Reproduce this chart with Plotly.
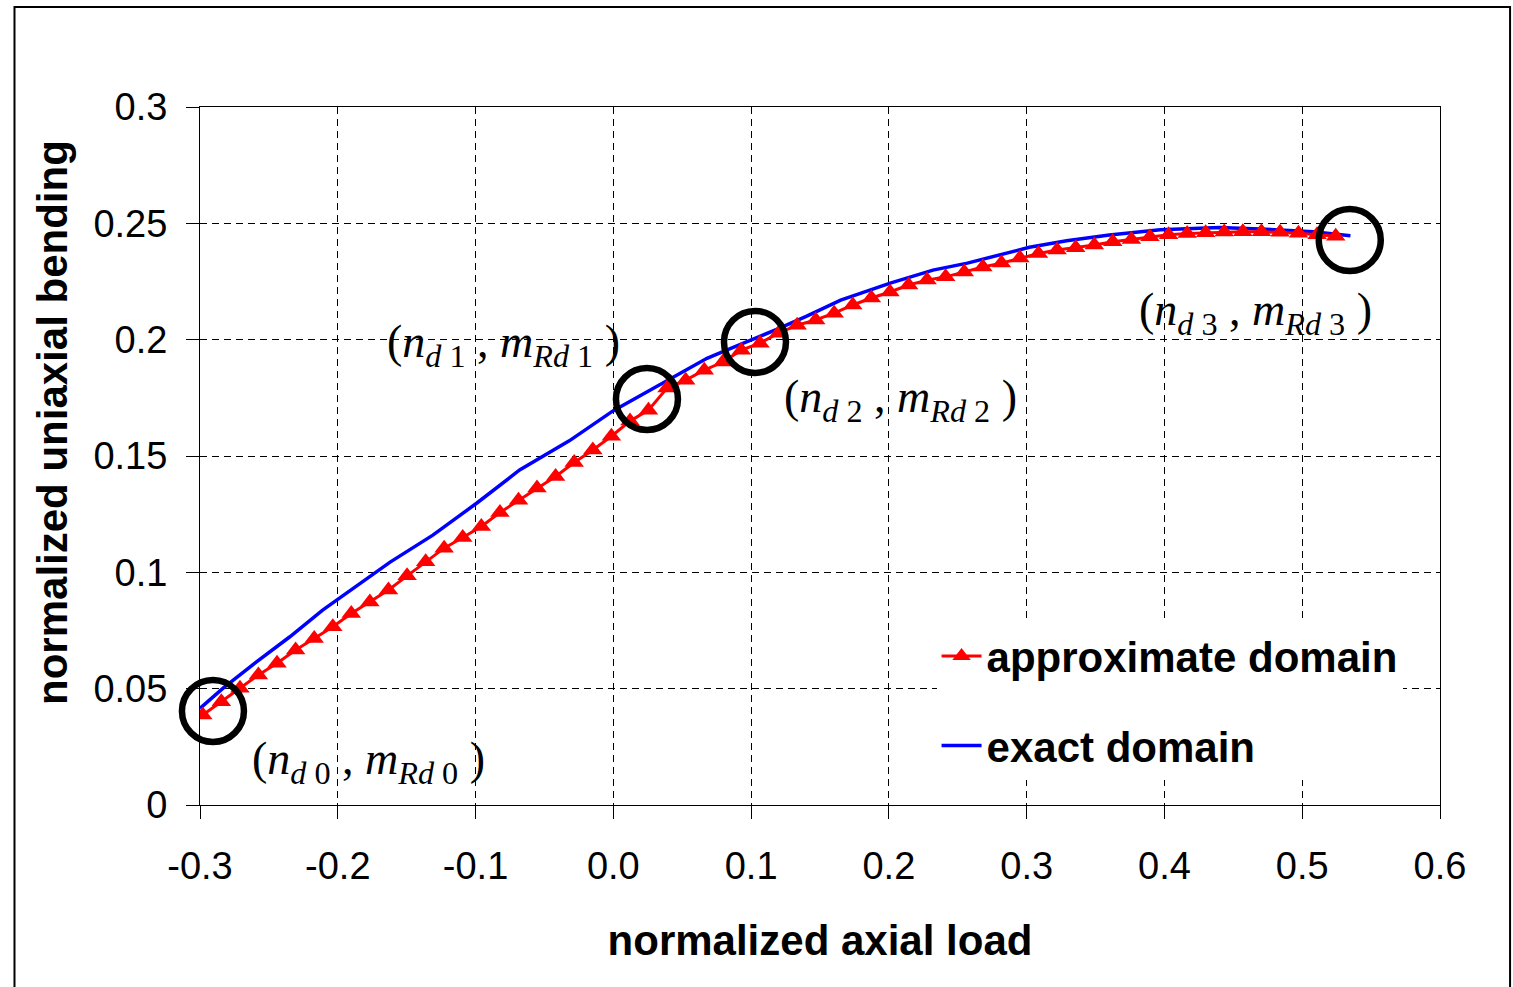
import plotly.graph_objects as go

# approximate domain (red, triangles)
approx_n = [-0.298, -0.2845, -0.2710, -0.2576, -0.2441, -0.2306, -0.2171, -0.2036, -0.1902, -0.1767,
            -0.1632, -0.1497, -0.1362, -0.1228, -0.1093, -0.0958, -0.0823, -0.0688, -0.0554, -0.0419,
            -0.0284, -0.0149, -0.0014, 0.0121, 0.0255, 0.0390, 0.0525, 0.0660, 0.0795, 0.0929,
            0.1064, 0.1199, 0.1334, 0.1469, 0.1603, 0.1738, 0.1873, 0.2008, 0.2143, 0.2277,
            0.2412, 0.2547, 0.2682, 0.2817, 0.2951, 0.3086, 0.3221, 0.3356, 0.3491, 0.3625,
            0.3760, 0.3895, 0.4030, 0.4165, 0.4299, 0.4434, 0.4569, 0.4704, 0.4839, 0.4973,
            0.5108, 0.5243]
approx_m = [0.0387, 0.0444, 0.0502, 0.0559, 0.0609, 0.0666, 0.0716, 0.0766, 0.0823, 0.0873,
            0.0924, 0.0985, 0.1045, 0.1104, 0.1150, 0.1197, 0.1257, 0.1310, 0.1362, 0.1412,
            0.1472, 0.1526, 0.1585, 0.1650, 0.1697, 0.1792, 0.1826, 0.1869, 0.1904, 0.1955,
            0.1985, 0.2028, 0.2062, 0.2085, 0.2114, 0.2149, 0.2179, 0.2205, 0.2235, 0.2256,
            0.2270, 0.2291, 0.2312, 0.2329, 0.2351, 0.2370, 0.2385, 0.2395, 0.2407, 0.2421,
            0.2431, 0.2442, 0.2451, 0.2456, 0.2459, 0.2463, 0.2464, 0.2464, 0.2462, 0.2457,
            0.2451, 0.2445]

# exact domain (blue line)
exact_n = [-0.300, -0.283, -0.259, -0.235, -0.211, -0.186, -0.162, -0.131, -0.099, -0.068,
           -0.046, -0.032, 0.000, 0.039, 0.068, 0.080, 0.099, 0.119, 0.140, 0.165,
           0.201, 0.232, 0.257, 0.281, 0.302, 0.329, 0.360, 0.397, 0.440, 0.469,
           0.508, 0.535]
exact_m = [0.0415, 0.0503, 0.0615, 0.0722, 0.0838, 0.0945, 0.1044, 0.1160, 0.1298, 0.1440,
           0.1517, 0.1565, 0.1695, 0.1825, 0.1920, 0.1950, 0.1995, 0.2045, 0.2100, 0.2170,
           0.2243, 0.2299, 0.2329, 0.2364, 0.2397, 0.2425, 0.2450, 0.2472, 0.2482, 0.2476,
           0.2464, 0.2447]

# highlighted points (circles)
key_n = [-0.2906, 0.0244, 0.1028, 0.5345]
key_m = [0.0404, 0.1745, 0.1990, 0.2428]

# labels
label_text = ["(<i>n</i><sub><i>d</i> 0</sub> , <i>m</i><sub><i>Rd</i> 0</sub> )",
              "(<i>n</i><sub><i>d</i> 1</sub> , <i>m</i><sub><i>Rd</i> 1</sub> )",
              "(<i>n</i><sub><i>d</i> 2</sub> , <i>m</i><sub><i>Rd</i> 2</sub> )",
              "(<i>n</i><sub><i>d</i> 3</sub> , <i>m</i><sub><i>Rd</i> 3</sub> )"]
label_n = [-0.2637, -0.1657, 0.1224, 0.3800]
label_m = [0.0185, 0.1977, 0.1740, 0.2114]

x_ticks = [-0.3, -0.2, -0.1, 0.0, 0.1, 0.2, 0.3, 0.4, 0.5, 0.6]
x_tick_text = ["-0.3", "-0.2", "-0.1", "0.0", "0.1", "0.2", "0.3", "0.4", "0.5", "0.6"]
y_ticks = [0, 0.05, 0.1, 0.15, 0.2, 0.25, 0.3]
y_tick_text = ["0", "0.05", "0.1", "0.15", "0.2", "0.25", "0.3"]

fig = go.Figure()
fig.add_trace(go.Scatter(x=exact_n, y=exact_m, mode="lines", name="<b>exact domain</b>",
                         line=dict(color="#0000FF", width=3.5), legendgroup="b", legendrank=2))
fig.add_trace(go.Scatter(x=approx_n, y=approx_m, mode="lines+markers", name="<b>approximate domain</b>",
                         line=dict(color="#FF0000", width=3),
                         marker=dict(symbol="triangle-up", size=17, color="#FF0000"),
                         legendgroup="a", legendrank=1))
fig.add_trace(go.Scatter(x=key_n, y=key_m, mode="markers", showlegend=False,
                         marker=dict(symbol="circle-open", size=62, color="black",
                                     line=dict(color="black", width=6.5)),
                         cliponaxis=False))

for t, xn, ym in zip(label_text, label_n, label_m):
    fig.add_annotation(x=xn, y=ym, xref="x", yref="y", text=t, showarrow=False,
                       xanchor="left", yanchor="middle",
                       font=dict(family="Liberation Serif", size=46, color="black"))

# y axis title (placed as rotated text, offset upward like the original)
fig.add_annotation(x=-0.1194, y=0.5487, xref="paper", yref="paper", textangle=-90,
                   text="<b>normalized uniaxial bending</b>", showarrow=False,
                   xanchor="center", yanchor="middle",
                   font=dict(family="Liberation Sans", size=42, color="black"))

axis_common = dict(showline=True, linecolor="black", linewidth=1, mirror=True,
                   showgrid=True, gridcolor="black", gridwidth=1, griddash="7px,5px",
                   ticks="outside", ticklen=13, tickcolor="black", tickwidth=1,
                   tickfont=dict(family="Liberation Sans", size=38, color="black"))

fig.update_xaxes(range=[-0.3, 0.6], tickvals=x_ticks, ticktext=x_tick_text, zeroline=False,
                 ticklabelstandoff=14,
                 title=dict(text="<b>normalized axial load</b>", standoff=40,
                            font=dict(family="Liberation Sans", size=42, color="black")),
                 **axis_common)
fig.update_yaxes(range=[0, 0.3], tickvals=y_ticks, ticktext=y_tick_text, zeroline=True,
                 zerolinecolor="black", zerolinewidth=2, ticklabelstandoff=11,
                 **axis_common)

fig.add_shape(type="rect", xref="paper", yref="paper", x0=-0.1496, x1=1.0565, y0=-0.27, y1=1.1433,
              line=dict(color="black", width=2), fillcolor="rgba(0,0,0,0)", layer="above")

fig.update_layout(
    width=1513, height=987,
    margin=dict(l=200, r=73, t=107, b=182),
    paper_bgcolor="white", plot_bgcolor="white",
    showlegend=True,
    legend=dict(x=0.594, y=0.262, xanchor="left", yanchor="top", bgcolor="white",
                borderwidth=0, traceorder="grouped", tracegroupgap=32,
                font=dict(family="Liberation Sans", size=42, color="black"),
                itemwidth=40),
)

fig.write_html("out.html")
